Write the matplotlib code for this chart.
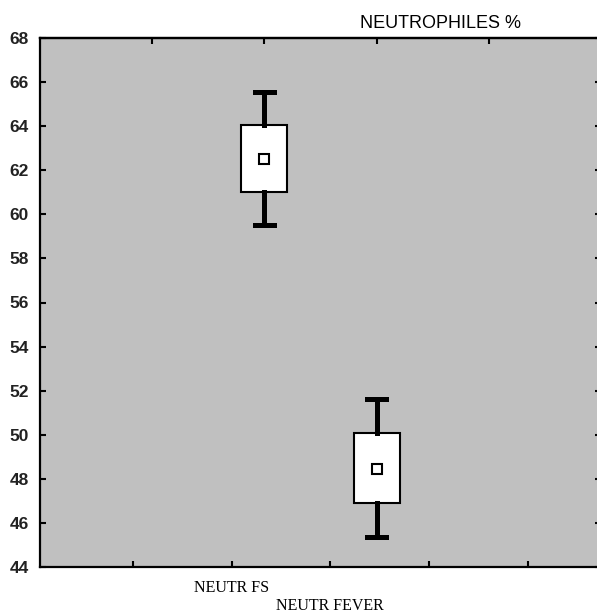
import matplotlib
matplotlib.use('Agg')
import matplotlib.pyplot as plt

# данные: среднее, границы ящика и усов
groups = ['NEUTR FS', 'NEUTR FEVER']
means = [62.5, 48.45]
box_low = [61.0, 46.9]
box_high = [64.05, 50.1]
whisk_low = [59.5, 45.35]
whisk_high = [65.55, 51.62]
positions = [2, 3]

y_ticks = list(range(44, 69, 2))
bottom_ticks = [0.83, 1.71, 2.585, 3.465, 4.345]
bottom_labels = ['', 'NEUTR FS', '\nNEUTR FEVER', '', '']


def main():
    fig = plt.figure(figsize=(5.97, 6.16), dpi=100)
    ax = fig.add_axes([40 / 597, 49 / 616, 561 / 597, 529 / 616])
    ax.set_facecolor('#c0c0c0')

    stats = []
    for i in range(len(groups)):
        stats.append({'label': groups[i], 'mean': means[i], 'med': means[i],
                      'q1': box_low[i], 'q3': box_high[i],
                      'whislo': whisk_low[i], 'whishi': whisk_high[i], 'fliers': []})

    ax.bxp(stats, positions=positions, widths=0.41, capwidths=0.17,
           showmeans=True, patch_artist=True, manage_ticks=False,
           boxprops=dict(facecolor='white', edgecolor='black', linewidth=1.5),
           whiskerprops=dict(color='black', linewidth=3.6),
           capprops=dict(color='black', linewidth=3.6),
           medianprops=dict(linewidth=0),
           meanprops=dict(marker='s', markerfacecolor='white', markeredgecolor='black',
                          markersize=7.5, markeredgewidth=1.5))

    ax.set_xlim(0, 5)
    ax.set_ylim(44, 68)
    ax.set_yticks(y_ticks)
    ax.set_yticklabels([str(v) for v in y_ticks], fontsize=12.5, fontweight='bold',
                       family='Liberation Sans', color='#222222')
    ax.set_xticks(bottom_ticks)
    ax.set_xticklabels(bottom_labels, fontsize=11.5, family='Liberation Serif')

    # верхняя ось со своими делениями
    top = ax.secondary_xaxis('top')
    top.set_xticks([1, 2, 3, 4])
    top.set_xticklabels([])
    top.tick_params(direction='in', length=4, width=1.5)

    ax.tick_params(axis='y', direction='in', length=4, width=1.5, pad=8, right=True)
    ax.tick_params(axis='x', direction='in', length=4, width=1.5, pad=9)
    for s in ax.spines.values():
        s.set_linewidth(1.6)
    top.spines['top'].set_linewidth(1.6)

    fig.text(440 / 597, 1 - 24 / 616, 'NEUTROPHILES %', ha='center', va='center',
             fontsize=13, family='Liberation Sans')

    fig.savefig('out.png', dpi=100)


main()
